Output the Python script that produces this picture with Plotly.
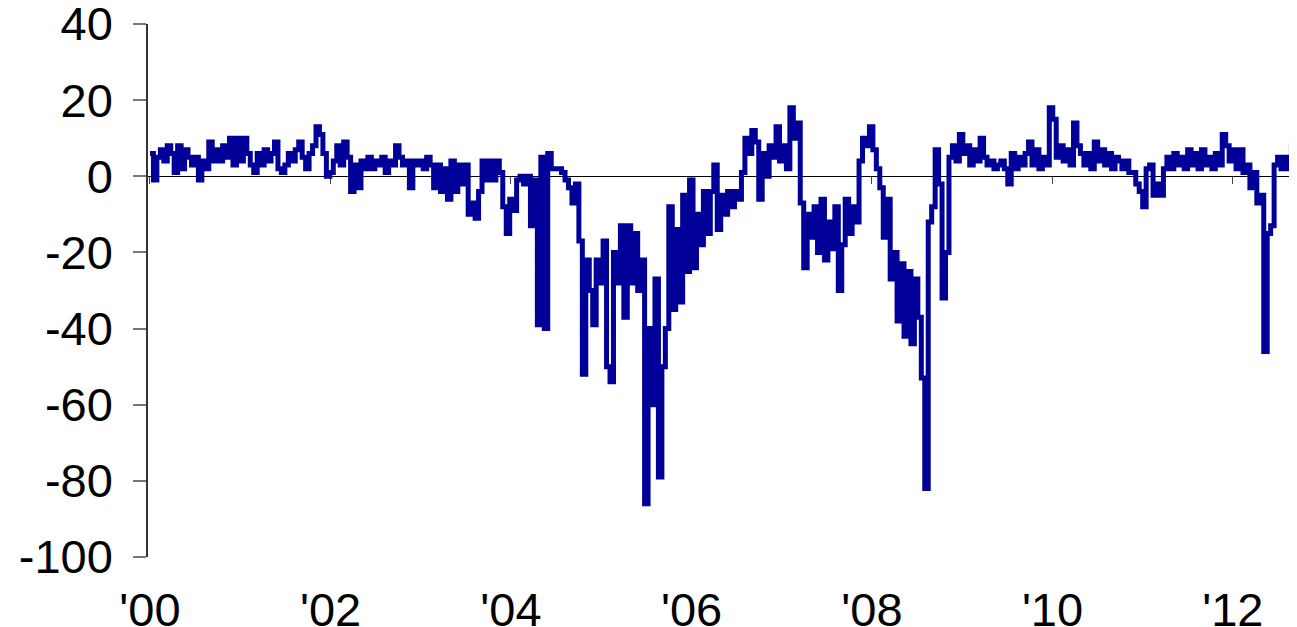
import pandas as pd
import plotly.graph_objects as go

# Fortnightly observations starting Jan 2000
start_date = "2000-01-01"
step_days = 14
values = [
    6, -1, 5, 7, 4, 8, 6, 1, 8, 2, 7, 5, 3, 5, -1, 4, 2, 9, 4, 7, 4, 8, 5, 10, 3, 10,
    4, 10, 6, 3, 1, 6, 3, 7, 4, 6, 9, 2, 1, 3, 6, 4, 7, 9, 5, 2, 6, 8, 13, 11, 6, 0,
    1, 4, 8, 3, 9, 5, -4, 3, -3, 4, 2, 5, 2, 4, 3, 5, 1, 4, 3, 8, 5, 3, 4, -3,
    4, 3, 4, 2, 5, 3, -3, 3, -4, 2, -6, 4, -4, 3, -2, 3, -10, -7, -11, -4, 4, -1,
    4, -1, 4, 1, -8, -15, -6, -9, -1, 0, -2, 0, -13, -1, -39, 5, -40, 6, 2, 2,
    2, 1, -1, -3, -7, -2, -17, -52, -22, -30, -39, -22, -28, -17, -50, -54, -20, -28,
    -13, -37, -13, -28, -15, -30, -22, -86, -40, -60, -27, -79, -50, -40, -8, -35,
    -14, -33, -5, -25, -1, -24, -10, -18, -4, -15, -4, 3, -14, -5, -10, -4, -8, -4,
    -6, 1, 10, 6, 12, 9, -6, 6, 0, 8, 5, 13, 4, 8, 2, 18, 10, 14, -7, -24, -10,
    -16, -8, -20, -6, -22, -12, -19, -8, -30, -18, -6, -15, -8, -12, 4, 10, 8, 13,
    7, 2, -3, -16, -6, -27, -20, -38, -23, -42, -25, -44, -27, -37, -53, -82, -12,
    -8, 7, -2, -32, -20, 5, 8, 4, 11, 6, 8, 3, 7, 4, 10, 5, 3, 4, 2, 3, 4, 2, -2,
    6, 2, 5, 3, 6, 9, 3, 7, 2, 5, 3, 18, 15, 5, 8, 4, 7, 3, 14, 8, 6, 3, 6, 2, 9,
    4, 7, 3, 6, 2, 5, 4, 2, 4, 1, 1, -2, -4, -8, 2, 3, -5, -2, -5, 2, 5, 2, 6, 3,
    5, 2, 7, 3, 6, 2, 7, 3, 5, 2, 6, 3, 11, 8, 4, 7, 2, 7, 1, 3, -3, 1, -7, -5,
    -46, -15, -13, 3, 5, 2, 5, 2, 8, 4,
]
dates = pd.date_range(start_date, periods=len(values), freq=f"{step_days}D")

tick_years = [2000, 2002, 2004, 2006, 2008, 2010, 2012]
tick_labels = ["'00", "'02", "'04", "'06", "'08", "'10", "'12"]
y_ticks = [-100, -80, -60, -40, -20, 0, 20, 40]

tick_dates = [f"{y}-01-01" for y in tick_years]
x_range = ["1999-12-24", "2012-10-19"]

font = dict(family="Liberation Sans, Arial, sans-serif", size=47, color="black")

fig = go.Figure()
fig.add_trace(go.Scatter(
    x=dates, y=values, mode="lines", line=dict(color="#000099", width=5, shape="hv"),
    hoverinfo="skip", showlegend=False,
))
# invisible trace to carry the zero-line axis
fig.add_trace(go.Scatter(
    x=[dates[0]], y=[None], xaxis="x2", yaxis="y", mode="lines", showlegend=False,
    hoverinfo="skip",
))

fig.update_layout(
    width=1297, height=627,
    margin=dict(l=140, r=0, t=16, b=78),
    plot_bgcolor="white", paper_bgcolor="white",
    font=font,
    xaxis=dict(
        type="date", range=x_range, tickvals=tick_dates, ticktext=tick_labels,
        showline=False, showgrid=False, zeroline=False, ticks="",
        ticklabelstandoff=21, tickfont=font, automargin=False,
        ticklabeloverflow="allow",
    ),
    xaxis2=dict(
        type="date", range=x_range, overlaying="x", anchor="free",
        position=100 / 140, side="bottom", showline=True, linecolor="black", linewidth=1,
        ticks="outside", ticklen=7, tickcolor="#444", tickwidth=1,
        tickvals=tick_dates, showticklabels=False, showgrid=False, zeroline=False,
        layer="below traces", automargin=False,
    ),
    yaxis=dict(
        range=[-100.01, 40.01], tickvals=y_ticks, ticktext=[str(v) for v in y_ticks],
        showline=True, linecolor="#333", linewidth=1.5, showgrid=False, zeroline=False,
        ticks="outside", ticklen=13, tickcolor="#777", tickwidth=1.5,
        ticklabelstandoff=11, tickfont=font, automargin=False,
        ticklabeloverflow="allow",
    ),
)

fig.write_html("out.html")
